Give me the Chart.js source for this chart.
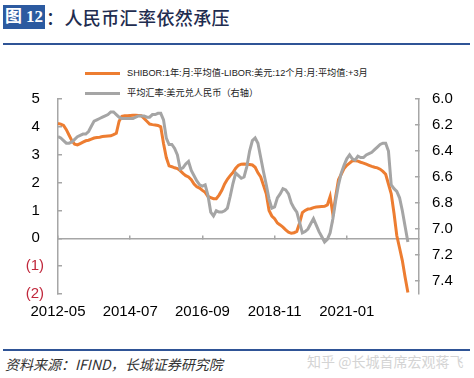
<!DOCTYPE html>
<html>
<head>
<meta charset="utf-8">
<script src="https://cdn.jsdelivr.net/npm/chart.js@4.4.0/dist/chart.umd.min.js"></script>
<style>
  body { margin: 0; background: #fff; }
  #wrap { position: relative; width: 474px; height: 378px; overflow: hidden; background: #fff;
          font-family: "Liberation Sans", Arial, "Noto Sans CJK SC", sans-serif; }
  #tbox { position: absolute; left: 3px; top: 5px; width: 42px; height: 24px; background: #2c5aa0;
          color: #fff; font: 700 17px/24px "Liberation Serif", "Noto Sans CJK SC", serif; text-align: center; }
  #ttl { position: absolute; left: 46px; top: 4px; height: 26px; color: #1f2d50; white-space: nowrap;
         font: 500 18px/26px "Noto Sans CJK SC", sans-serif; letter-spacing: 0.4px; }
  .rule { position: absolute; left: 3px; width: 467px; height: 2px; background: #2f5496; }
  #legend { position: absolute; left: 85px; top: 65px; font-size: 9.2px; color: #222; }
  .li { position: relative; height: 20px; line-height: 16px; white-space: nowrap; }
  .li i { position: absolute; left: 0; top: 7px; width: 35px; height: 3px; }
  .li span { position: absolute; left: 42px; top: 0; }
  #cw { position: absolute; left: 0; top: 72px; width: 474px; height: 258px; }
  #src { position: absolute; left: 5px; top: 354px; font: italic 14px "Noto Sans CJK SC", sans-serif; color: #333; white-space: nowrap; }
  #wm { position: absolute; left: 307px; top: 351px; font: 14px "Noto Sans CJK SC", sans-serif; color: #d4d4d4; white-space: nowrap; }
</style>
</head>
<body>
<div id="wrap">
  <div id="tbox">图 12</div>
  <div id="ttl">：人民币汇率依然承压</div>
  <div class="rule" style="top:43px"></div>
  <div id="legend"></div>
  <div id="cw"><canvas id="c" width="474" height="258"></canvas></div>
  <div class="rule" style="top:349px"></div>
  <div id="src">资料来源：IFIND，长城证券研究院</div>
  <div id="wm">知乎 @长城首席宏观蒋飞</div>
</div>
<script>
// 月度数据，2012-05 起
const startYear = 2012, startMonth = 5, monthCount = 131;
const tickLabels = ['2012-05', '2014-07', '2016-09', '2018-11', '2021-01'];
const rightTicks = [6.0, 6.2, 6.4, 6.6, 6.8, 7.0, 7.2, 7.4];

const seriesNames = ['SHIBOR:1年:月:平均值-LIBOR:美元:12个月:月:平均值:+3月', '平均汇率:美元兑人民币（右轴）'];
const seriesColors = ['#ed7d31', '#a5a5a5'];

// 利差（左轴）
const spread = [
  4.12, 4.10, 4.05, 3.90, 3.70, 3.50, 3.38, 3.35, 3.40, 3.45,
  3.50, 3.52, 3.56, 3.60, 3.62, 3.63, 3.65, 3.66, 3.67, 3.68,
  3.72, 3.77, 4.20, 4.38, 4.40, 4.40, 4.41, 4.42, 4.42, 4.41,
  4.40, 4.30, 4.20, 4.10, 4.08, 4.07, 4.05, 4.00, 3.40, 2.90,
  2.60, 2.57, 2.53, 2.50, 2.43, 2.33, 2.25, 2.20, 2.10, 1.95,
  1.85, 1.80, 1.72, 1.65, 1.50, 1.46, 1.42, 1.42, 1.55, 1.72,
  1.95, 2.12, 2.25, 2.36, 2.52, 2.62, 2.66, 2.67, 2.66, 2.65,
  2.63, 2.55, 2.35, 2.20, 1.90, 1.60, 1.00, 0.80, 0.70, 0.55,
  0.48, 0.40, 0.30, 0.22, 0.18, 0.20, 0.25, 0.55, 0.92, 1.00,
  1.05, 1.06, 1.10, 1.12, 1.13, 1.14, 1.15, 1.20, 1.50, 0.85,
  1.50, 2.10, 2.30, 2.50, 2.62, 2.70, 2.78, 2.78, 2.77, 2.73,
  2.70, 2.66, 2.62, 2.58, 2.55, 2.53, 2.48, 2.40, 2.30, 1.95,
  1.60, 0.90, 0.10, -0.35, -0.80, -1.40, -1.95
];

// 美元兑人民币（右轴）
const usdcny = [
  6.29, 6.30, 6.32, 6.34, 6.34, 6.33, 6.31, 6.29, 6.28, 6.27,
  6.27, 6.25, 6.21, 6.17, 6.16, 6.15, 6.14, 6.13, 6.12, 6.10,
  6.10, 6.12, 6.14, 6.15, 6.15, 6.15, 6.15, 6.15, 6.14, 6.13,
  6.13, 6.13, 6.14, 6.14, 6.12, 6.12, 6.11, 6.11, 6.16, 6.30,
  6.35, 6.35, 6.38, 6.43, 6.54, 6.53, 6.50, 6.48, 6.55, 6.59,
  6.63, 6.66, 6.67, 6.66, 6.74, 6.87, 6.90, 6.86, 6.87, 6.87,
  6.86, 6.84, 6.75, 6.65, 6.57, 6.59, 6.61, 6.60, 6.52, 6.40,
  6.32, 6.30, 6.34, 6.45, 6.56, 6.66, 6.77, 6.84, 6.83, 6.76,
  6.73, 6.69, 6.70, 6.73, 6.80, 6.84, 6.87, 6.95, 7.03, 7.02,
  7.00, 6.96, 6.92, 6.97, 7.02, 7.06, 7.10, 7.08, 7.03, 6.92,
  6.78, 6.66, 6.57, 6.51, 6.46, 6.43, 6.46, 6.47, 6.44, 6.45,
  6.45, 6.43, 6.42, 6.41, 6.39, 6.37, 6.35, 6.34, 6.34, 6.40,
  6.66, 6.69, 6.71, 6.76, 6.86, 6.98, 7.10
];

const labels = [];
for (let i = 0; i < monthCount; i++) {
  const m = startMonth - 1 + i;
  const y = startYear + Math.floor(m / 12);
  labels.push(y + '-' + String(m % 12 + 1).padStart(2, '0'));
}

// 图例
document.getElementById('legend').innerHTML = seriesNames.map((n, i) =>
  `<div class="li"><i style="background:${seriesColors[i]}"></i><span>${n}</span></div>`).join('');

const axisGray = '#a6a6a6';
const tickFont = { size: 15, family: '"Liberation Sans", Arial, sans-serif' };
const keepTickLabels = s => { s.ticks = s.ticks.filter(t => tickLabels.includes(labels[t.value])); };

new Chart(document.getElementById('c'), {
  type: 'line',
  data: {
    labels: labels,
    datasets: [
      { label: seriesNames[0], data: spread, yAxisID: 'y', borderColor: seriesColors[0],
        borderWidth: 3, pointRadius: 0, order: 2 },
      { label: seriesNames[1], data: usdcny, yAxisID: 'y2', borderColor: seriesColors[1],
        borderWidth: 3, pointRadius: 0, order: 1 }
    ]
  },
  options: {
    responsive: false,
    animation: false,
    layout: { padding: { top: 9, bottom: 0, left: 0, right: 0 } },
    plugins: { legend: { display: false }, tooltip: { enabled: false } },
    scales: {
      x: {
        type: 'category',
        offset: false,
        grid: { display: false },
        border: { display: false },
        afterBuildTicks: keepTickLabels,
        afterFit: s => { s.height = 36; },
        ticks: { autoSkip: false, maxRotation: 0, padding: 1, color: '#000', font: tickFont }
      },
      x0: {
        type: 'category',
        position: { y: 0 },
        offset: false,
        afterBuildTicks: keepTickLabels,
        afterFit: s => { s.height = 0; },
        ticks: { display: false, autoSkip: false },
        grid: { drawOnChartArea: false, tickLength: -4, color: axisGray, lineWidth: 1.5 },
        border: { color: axisGray, width: 1.5 }
      },
      y: {
        position: 'left',
        min: -2, max: 5,
        afterFit: s => { s.width = 58; },
        grid: { drawOnChartArea: false, tickLength: -4, color: axisGray, lineWidth: 1.5 },
        border: { color: axisGray, width: 1.5 },
        ticks: {
          stepSize: 1, padding: 18, font: tickFont,
          color: c => c.tick.value < 0 ? '#c0283c' : '#000',
          callback: v => v < 0 ? '(' + (-v) + ')' : v + ' '
        }
      },
      y2: {
        position: 'right',
        reverse: true,
        min: 6.0, max: 7.5,
        afterFit: s => { s.width = 55; },
        afterBuildTicks: s => { s.ticks = rightTicks.map(v => ({ value: v })); },
        grid: { drawOnChartArea: false, tickLength: -4, color: axisGray, lineWidth: 1.5 },
        border: { color: axisGray, width: 1.5 },
        ticks: { padding: 17, color: '#000', font: tickFont, callback: v => v.toFixed(1) }
      }
    }
  }
});
</script>
</body>
</html>
